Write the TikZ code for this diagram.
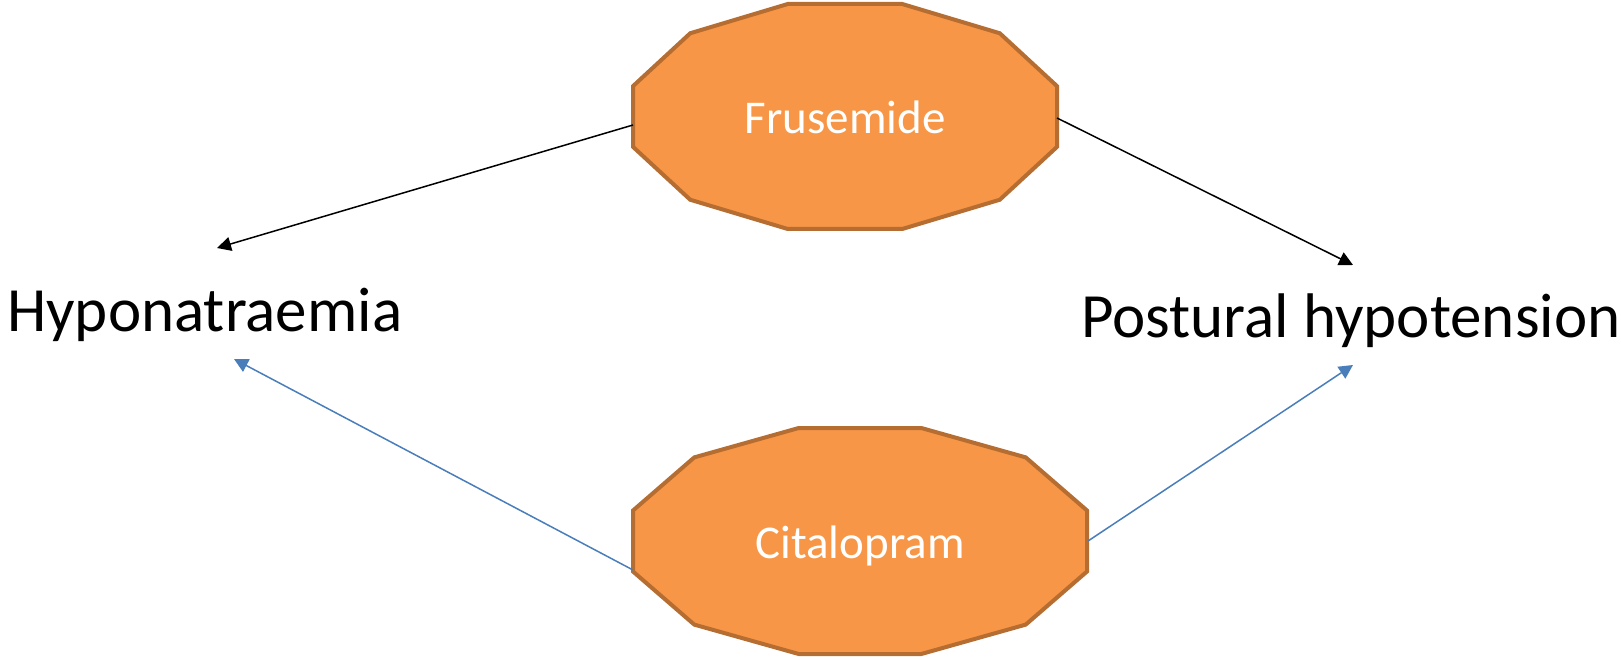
\documentclass[tikz,border=0pt]{standalone}
\usepackage{fontspec}
\setmainfont{Carlito}
\usetikzlibrary{arrows.meta,calc}
\definecolor{drugfill}{HTML}{F79646}
\definecolor{drugline}{HTML}{B66D31}
\definecolor{linkblue}{HTML}{4A7EBB}
\tikzset{
  drugtext/.style={inner sep=0pt, text=white, font=\fontsize{47}{50}\selectfont, text height=34pt, text depth=0pt},
  effect/.style={inner sep=0pt, anchor=base west, font=\fontsize{63}{68}\selectfont},
  decaline/.style={draw=drugline, fill=drugfill, line width=4pt, line join=miter},
  blkarrow/.style={draw=black, line width=1.5pt, -{Triangle[length=14pt,width=14pt]}},
  bluearrow/.style={draw=linkblue, line width=1.5pt, -{Triangle[length=14pt,width=14pt]}}
}
\newcommand\decapoly[4]{%
  \begin{scope}[shift={(#1,#2)}, xscale=#3, yscale=#4]
    \path[decaline] (-0.27,-1) -- (0.27,-1) -- (0.73,-0.74) -- (1,-0.27) -- (1,0.27) -- (0.73,0.74) -- (0.27,1) -- (-0.27,1) -- (-0.73,0.74) -- (-1,0.27) -- (-1,-0.27) -- (-0.73,-0.74) -- cycle;
  \end{scope}}
\begin{document}
\begin{tikzpicture}[x=1pt,y=-1pt]
\useasboundingbox (0,0) rectangle (1621,660);
\decapoly{845}{116.5}{212}{112.5}
\decapoly{860}{541}{227}{113}
\node[drugtext] (fru) at (845,117) {Frusemide};
\node[drugtext] (cit) at (860,541) {Citalopram};
\node[effect] (hyp) at (7,331) {Hyponatraemia};
\node[effect] (post) at (1081,337) {Postural hypotension};
\coordinate (fruL) at (633,125);
\coordinate (fruR) at (1057,118);
\coordinate (citL) at (633,570);
\coordinate (citR) at (1088,541);
\coordinate (hypTop) at (217,248);
\coordinate (hypBot) at (234,359);
\coordinate (postTop) at (1353,265);
\coordinate (postBot) at (1353,365);
\draw[blkarrow] (fruL) -- (hypTop);
\draw[blkarrow] (fruR) -- (postTop);
\draw[bluearrow] (citL) -- (hypBot);
\draw[bluearrow] (citR) -- (postBot);
\end{tikzpicture}
\end{document}
